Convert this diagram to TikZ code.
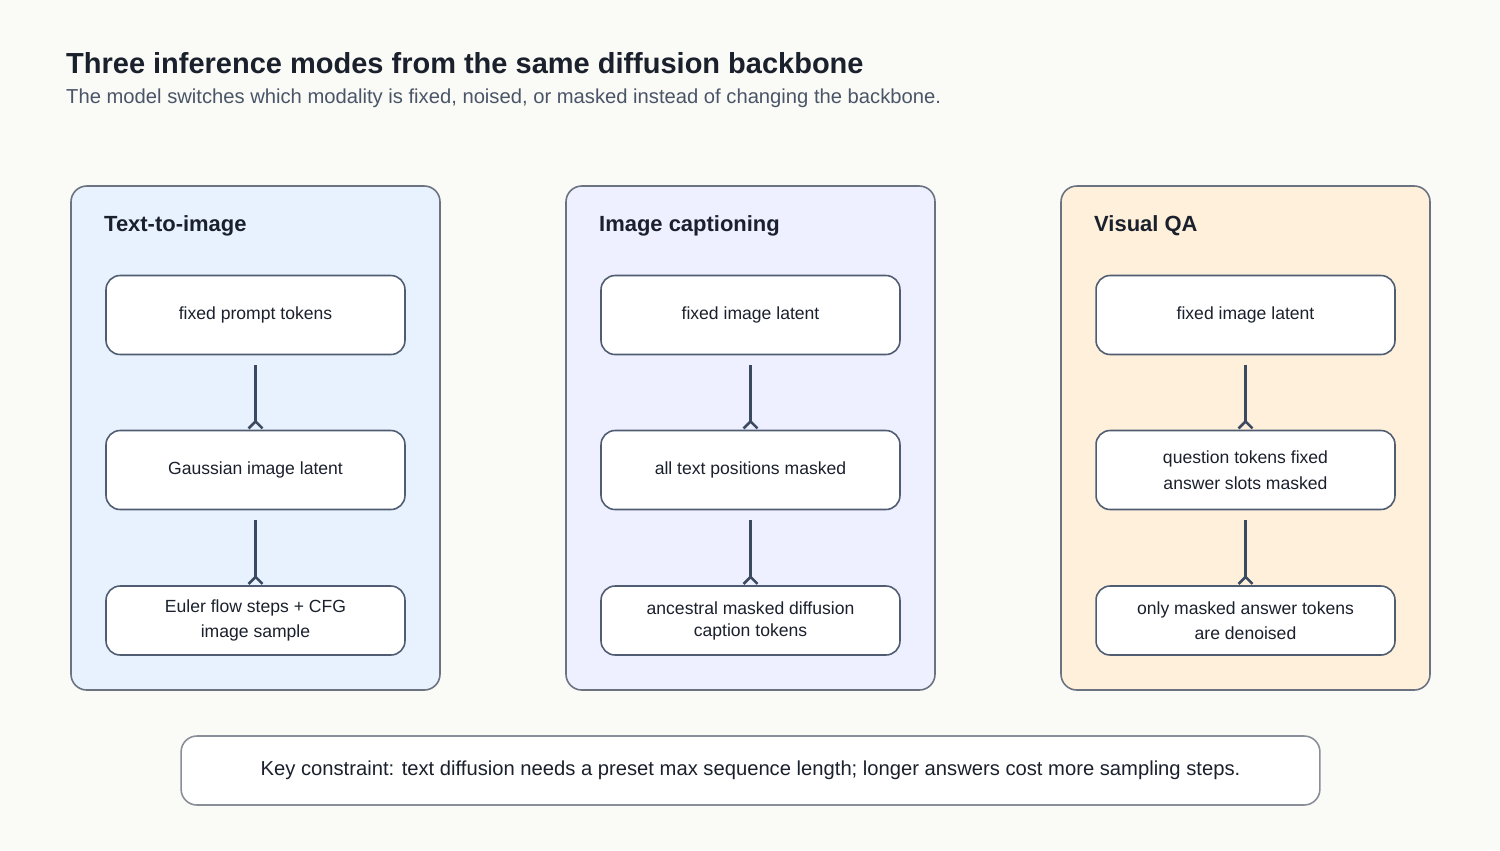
\documentclass[tikz,border=0pt]{standalone}
\usepackage{fontspec}
\setmainfont{Liberation Sans}
\usetikzlibrary{arrows.meta}
\definecolor{bg}{HTML}{FAFAF6}
\definecolor{pA}{HTML}{E8F2FF}
\definecolor{pB}{HTML}{EEEFFF}
\definecolor{pC}{HTML}{FFF0DC}
\definecolor{bd}{HTML}{6B7280}
\definecolor{ar}{HTML}{3B4A61}
\definecolor{tt}{HTML}{1A202C}
\definecolor{st}{HTML}{4A5568}
\begin{document}
\begin{tikzpicture}[x=0.02cm,y=-0.02cm,
  panel/.style={draw=bd,line width=0.9pt,rounded corners=9pt},
  box/.style={draw=ar!90,fill=white,line width=0.9pt,rounded corners=8pt,minimum width=5.98cm,align=center,font=\fontsize{10}{14.5}\selectfont,text=tt},
  head/.style={anchor=west,font=\fontsize{12.5}{15}\selectfont\bfseries,text=tt},
  conn/.style={draw=ar,line width=2pt,-{Straight Barb[reversed,length=4pt,width=8pt,line width=1.5pt]}}]
\fill[bg] (0,0) rectangle (1500,850);
\node[anchor=west,font=\fontsize{16.5}{20}\selectfont\bfseries,text=tt] (title) at (60,63) {Three inference modes from the same diffusion backbone};
\node[anchor=west,font=\fontsize{11.5}{14}\selectfont,text=st] (sub) at (60,98) {The model switches which modality is fixed, noised, or masked instead of changing the backbone.};
\foreach \i/\x/\c/\h in {1/71/pA/Text-to-image,2/566/pB/Image captioning,3/1061/pC/Visual QA / in-filling}{
  \draw[panel,fill=\c] (\x,186) rectangle (\x+369,690);
  \node[head] (h\i) at (\x+27,226) {\h};
}
\def\mk#1#2#3#4#5{%
  \node[box,minimum height=1.58cm] (#1a) at (#2,315) {#3};
  \node[box,minimum height=1.58cm] (#1b) at (#2,470) {#4};
  \node[box,minimum height=1.38cm] (#1c) at (#2,620.5) {#5};
  \path[conn] ([yshift=-0.2cm]#1a.south) -- (#1b.north);
  \path[conn] ([yshift=-0.2cm]#1b.south) -- (#1c.north);}
\mk{p}{255.5}{fixed prompt tokens}{Gaussian image latent}{Euler flow steps + CFG\\image sample}
\mk{q}{750.5}{fixed image latent}{all text positions masked}{ancestral masked diffusion\\[-2pt]caption tokens}
\mk{r}{1245.5}{fixed image latent}{question tokens fixed\\answer slots masked}{only masked answer tokens\\are denoised}
\node[draw=bd!80,fill=white,line width=0.9pt,rounded corners=9pt,minimum width=22.78cm,minimum height=1.38cm,font=\fontsize{11.5}{14}\selectfont,text=tt] (key) at (750.5,770.5) {Key constraint: text diffusion needs a preset max sequence length; longer answers cost more sampling steps.};
\end{tikzpicture}
\end{document}
